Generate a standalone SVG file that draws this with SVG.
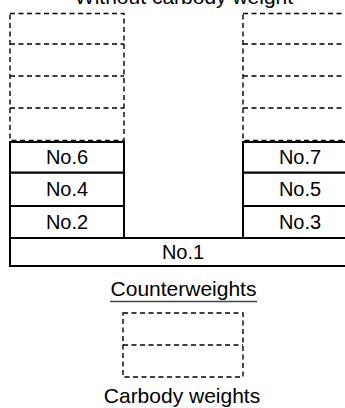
<svg xmlns="http://www.w3.org/2000/svg" width="345" height="408" viewBox="0 0 345 408">
<style>
.d{fill:none;stroke:#000;stroke-width:1.4;stroke-dasharray:5,3.5}
.s{fill:#fff;stroke:#000;stroke-width:2}
text{font-family:"Liberation Sans",Arial,sans-serif;fill:#000;text-anchor:middle}
.n{font-size:20px}
.t{font-size:21px}
</style>
<rect width="345" height="408" fill="#fff"/>
<text class="t" x="184" y="4">Without carbody weight</text>
<g id="left-empty">
<rect class="d" x="10" y="13.5" width="114" height="127"/>
<line class="d" x1="10" y1="44" x2="124" y2="44"/>
<line class="d" x1="10" y1="76" x2="124" y2="76"/>
<line class="d" x1="10" y1="108" x2="124" y2="108"/>
</g>
<g id="right-empty">
<rect class="d" x="243" y="13.5" width="114" height="127"/>
<line class="d" x1="243" y1="44" x2="357" y2="44"/>
<line class="d" x1="243" y1="76" x2="357" y2="76"/>
<line class="d" x1="243" y1="108" x2="357" y2="108"/>
</g>
<g id="no1"><rect class="s" x="10" y="238" width="347" height="28"/><text class="n" x="183" y="259">No.1</text></g>
<g id="no2"><rect class="s" x="10" y="206" width="114" height="32"/><text class="n" x="67" y="229">No.2</text></g>
<g id="no4"><rect class="s" x="10" y="172.5" width="114" height="33.5"/><text class="n" x="67" y="196">No.4</text></g>
<g id="no6"><rect class="s" x="10" y="142" width="114" height="30.5"/><text class="n" x="67" y="164">No.6</text></g>
<g id="no3"><rect class="s" x="243" y="206" width="114" height="32"/><text class="n" x="300" y="229">No.3</text></g>
<g id="no5"><rect class="s" x="243" y="172.5" width="114" height="33.5"/><text class="n" x="300" y="196">No.5</text></g>
<g id="no7"><rect class="s" x="243" y="142" width="114" height="30.5"/><text class="n" x="300" y="164">No.7</text></g>
<g id="legend-counter">
<text class="t" x="183.5" y="296">Counterweights</text>
<line x1="110" y1="301.5" x2="257" y2="301.5" stroke="#444" stroke-width="1.3"/>
</g>
<g id="legend-carbody">
<rect class="d" x="123" y="313" width="120" height="64"/>
<line class="d" x1="123" y1="345" x2="243" y2="345"/>
<text class="t" x="182" y="403">Carbody weights</text>
</g>
<g id="connectors"/>
</svg>
